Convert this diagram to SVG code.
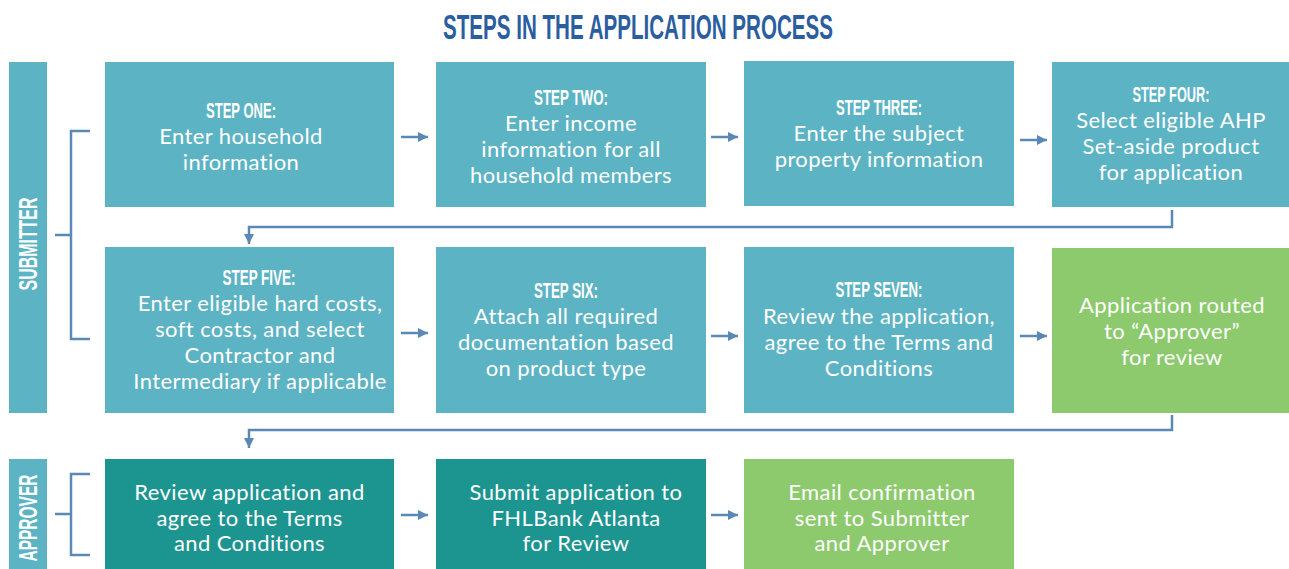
<svg xmlns="http://www.w3.org/2000/svg" width="1289" height="569" viewBox="0 0 1289 569">
  <style>
    .lt { fill: #5cb3c4; }
    .dk { fill: #1c9490; }
    .gr { fill: #8cca6d; }
    .body { font-family: Lato, "Open Sans", sans-serif; font-size: 22px; letter-spacing: 0.4px; fill: #ffffff; text-anchor: middle; }
    .head { font-family: "Liberation Sans", Arial, sans-serif; font-weight: bold; font-size: 22.5px; fill: #ffffff; text-anchor: middle; }
    .side { font-family: "Liberation Sans", Arial, sans-serif; font-weight: bold; font-size: 25px; fill: #ffffff; text-anchor: middle; }
    .title { font-family: "Liberation Sans", Arial, sans-serif; font-weight: bold; font-size: 35px; fill: #2b5e9f; text-anchor: middle; }
    .wire { fill: none; stroke: #5b89b6; stroke-width: 2.5; }
    .brk { fill: none; stroke: #5b89b6; stroke-width: 2.5; }
  </style>
  <defs>
    <marker id="ah" viewBox="0 0 10 10" refX="10" refY="5" markerWidth="4" markerHeight="4" markerUnits="strokeWidth" orient="auto">
      <path d="M0,0 L10,5 L0,10 z" fill="#5b89b6"/>
    </marker>
  </defs>
  <rect width="1289" height="569" fill="#ffffff"/>

  <text class="title" x="638" y="39" textLength="390" lengthAdjust="spacingAndGlyphs">STEPS IN THE APPLICATION PROCESS</text>

  <!-- lane labels -->
  <g id="lane-submitter">
    <rect class="lt" x="9" y="62" width="38" height="351"/>
    <text class="side" transform="translate(37,244) rotate(-90)" textLength="93" lengthAdjust="spacingAndGlyphs">SUBMITTER</text>
    <path class="brk" d="M90,131 H71 V339 H90 M55,235 H71"/>
  </g>
  <g id="lane-approver">
    <rect class="lt" x="9" y="459" width="38" height="110"/>
    <text class="side" transform="translate(37,518) rotate(-90)" textLength="87" lengthAdjust="spacingAndGlyphs">APPROVER</text>
    <path class="brk" d="M90,474 H71 V555 H90 M55,514 H71"/>
  </g>

  <!-- row 1 -->
  <g id="step-one">
    <rect class="lt" x="105" y="62" width="289" height="145"/>
    <text class="head" x="241" y="118" textLength="70" lengthAdjust="spacingAndGlyphs">STEP ONE:</text>
    <text class="body" x="241" y="144">Enter household</text>
    <text class="body" x="241" y="170">information</text>
  </g>
  <g id="step-two">
    <rect class="lt" x="436" y="62" width="270" height="145"/>
    <text class="head" x="571" y="105" textLength="74" lengthAdjust="spacingAndGlyphs">STEP TWO:</text>
    <text class="body" x="571" y="131">Enter income</text>
    <text class="body" x="571" y="157">information for all</text>
    <text class="body" x="571" y="183">household members</text>
  </g>
  <g id="step-three">
    <rect class="lt" x="744" y="61" width="270" height="145"/>
    <text class="head" x="879" y="115" textLength="86" lengthAdjust="spacingAndGlyphs">STEP THREE:</text>
    <text class="body" x="879" y="141">Enter the subject</text>
    <text class="body" x="879" y="167">property information</text>
  </g>
  <g id="step-four">
    <rect class="lt" x="1052" y="62" width="237" height="145"/>
    <text class="head" x="1171" y="102" textLength="77" lengthAdjust="spacingAndGlyphs">STEP FOUR:</text>
    <text class="body" x="1171" y="128">Select eligible AHP</text>
    <text class="body" x="1171" y="154">Set-aside product</text>
    <text class="body" x="1171" y="180">for application</text>
  </g>

  <!-- row 2 -->
  <g id="step-five">
    <rect class="lt" x="105" y="247" width="289" height="166"/>
    <text class="head" x="259" y="285" textLength="73" lengthAdjust="spacingAndGlyphs">STEP FIVE:</text>
    <text class="body" x="260" y="311">Enter eligible hard costs,</text>
    <text class="body" x="260" y="337">soft costs, and select</text>
    <text class="body" x="260" y="363">Contractor and</text>
    <text class="body" x="260" y="389">Intermediary if applicable</text>
  </g>
  <g id="step-six">
    <rect class="lt" x="436" y="247" width="270" height="166"/>
    <text class="head" x="566" y="298" textLength="64" lengthAdjust="spacingAndGlyphs">STEP SIX:</text>
    <text class="body" x="566" y="324">Attach all required</text>
    <text class="body" x="566" y="350">documentation based</text>
    <text class="body" x="566" y="376">on product type</text>
  </g>
  <g id="step-seven">
    <rect class="lt" x="744" y="247" width="270" height="166"/>
    <text class="head" x="879" y="297" textLength="87" lengthAdjust="spacingAndGlyphs">STEP SEVEN:</text>
    <text class="body" x="879" y="324">Review the application,</text>
    <text class="body" x="879" y="350">agree to the Terms and</text>
    <text class="body" x="879" y="376">Conditions</text>
  </g>
  <g id="routed">
    <rect class="gr" x="1052" y="248" width="237" height="165"/>
    <text class="body" x="1172" y="313">Application routed</text>
    <text class="body" x="1172" y="339">to “Approver”</text>
    <text class="body" x="1172" y="365">for review</text>
  </g>

  <!-- row 3 -->
  <g id="approver-review">
    <rect class="dk" x="105" y="459" width="289" height="110"/>
    <text class="body" x="249.5" y="500">Review application and</text>
    <text class="body" x="249.5" y="526">agree to the Terms</text>
    <text class="body" x="249.5" y="551">and Conditions</text>
  </g>
  <g id="submit">
    <rect class="dk" x="436" y="459" width="270" height="110"/>
    <text class="body" x="576" y="500">Submit application to</text>
    <text class="body" x="576" y="526">FHLBank Atlanta</text>
    <text class="body" x="576" y="551">for Review</text>
  </g>
  <g id="email">
    <rect class="gr" x="744" y="459" width="270" height="110"/>
    <text class="body" x="882" y="500">Email confirmation</text>
    <text class="body" x="882" y="526">sent to Submitter</text>
    <text class="body" x="882" y="551">and Approver</text>
  </g>

  <!-- connectors -->
  <g id="connectors">
    <path class="wire" marker-end="url(#ah)" d="M401,137 H428"/>
    <path class="wire" marker-end="url(#ah)" d="M711,137 H738"/>
    <path class="wire" marker-end="url(#ah)" d="M1020,140 H1047"/>
    <path class="wire" marker-end="url(#ah)" d="M1172,210 V227 H249 V244"/>
    <path class="wire" marker-end="url(#ah)" d="M401,333 H428"/>
    <path class="wire" marker-end="url(#ah)" d="M711,336 H738"/>
    <path class="wire" marker-end="url(#ah)" d="M1020,336 H1047"/>
    <path class="wire" marker-end="url(#ah)" d="M1172,415 V430 H249 V448"/>
    <path class="wire" marker-end="url(#ah)" d="M401,515 H428"/>
    <path class="wire" marker-end="url(#ah)" d="M711,515 H738"/>
  </g>
</svg>
